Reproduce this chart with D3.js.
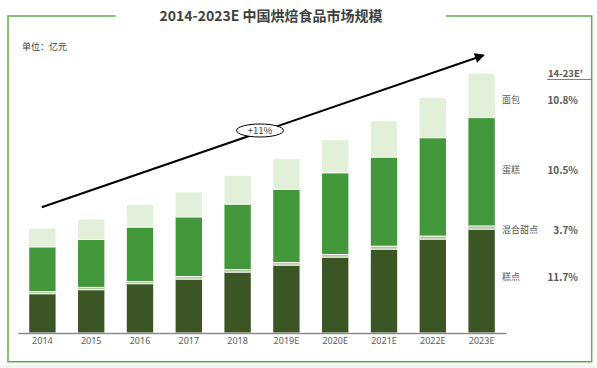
<!DOCTYPE html>
<html><head><meta charset="utf-8">
<script src="https://cdn.jsdelivr.net/npm/d3@7"></script>
<style>
html,body{margin:0;padding:0;background:#fff;}
svg{display:block;font-family:"Noto Sans CJK SC","Noto Sans",sans-serif;}
</style></head>
<body>
<svg id="chart" width="597" height="368"></svg>
<script>
const title = "2014-2023E 中国烘焙食品市场规模";
const unitLabel = "单位：亿元";
const years = ["2014","2015","2016","2017","2018","2019E","2020E","2021E","2022E","2023E"];
const seriesNames = ["糕点","混合甜点","蛋糕","面包"];
const pastry = [387, 427, 487, 533, 603, 673, 753, 833, 933, 1033];
const mixedDessert = [22, 24, 23, 26, 27, 26, 27, 30, 31, 32];
const cake = [446, 480, 543, 596, 653, 733, 816, 890, 983, 1084];
const bread = [184, 197, 224, 247, 284, 303, 327, 360, 397, 440];
const cagrLabels = ["11.7%","3.7%","10.5%","10.8%"];
const cagrHeader = "14-23E'";
const overallGrowth = "+11%";
const colors = ["#3b5524","#b3c6a3","#43983b","#e2efd9"];

const svg = d3.select("#chart");
const seriesVals = [pastry, mixedDessert, cake, bread];
const rows = years.map((y,i)=>{const r={year:y}; seriesNames.forEach((s,k)=>r[s]=seriesVals[k][i]); return r;});
const stack = d3.stack().keys(seriesNames)(rows);

const x = d3.scaleBand().domain(years).range([18,506]).paddingInner(0.46).paddingOuter(0.23);
const y = d3.scaleLinear().domain([0,3000]).range([332.5,32.5]);

// bottom page strip
svg.append("rect").attr("x",0).attr("y",365).attr("width",597).attr("height",3).attr("fill","#f3f5f3");

// frame
svg.append("path")
  .attr("d","M115.7,16 H8 V361.7 H591.7 V16 H446")
  .attr("fill","none").attr("stroke","#5fae4c").attr("stroke-width",1.5);

svg.append("text").attr("x",271).attr("y",21).attr("text-anchor","middle")
  .attr("font-size",14).attr("font-weight","bold").attr("fill","#404040").text(title);
svg.append("text").attr("x",22).attr("y",49.5).attr("font-size",9).attr("fill","#404040").text(unitLabel);

// bars
const g = svg.append("g");
stack.forEach((layer,k)=>{
  g.selectAll(null).data(layer).enter().append("rect")
    .attr("x",d=>x(d.data.year))
    .attr("width",x.bandwidth())
    .attr("y",d=>y(d[1]))
    .attr("height",d=>y(d[0])-y(d[1]))
    .attr("fill",colors[k]);
  if(k>0){
    g.selectAll(null).data(layer).enter().append("line")
      .attr("x1",d=>x(d.data.year)).attr("x2",d=>x(d.data.year)+x.bandwidth())
      .attr("y1",d=>y(d[0])).attr("y2",d=>y(d[0]))
      .attr("stroke","#fff").attr("stroke-width",1);
  }
});

// x axis
const xAxis = d3.axisBottom(x).tickSize(0).tickPadding(5);
const ax = svg.append("g").attr("transform","translate(0,333)").call(xAxis);
ax.select(".domain").attr("stroke","#8c8c8c").attr("stroke-width",1.5);
ax.selectAll("text").attr("font-size",9).attr("fill","#595959").attr("font-family","\"Noto Sans\",sans-serif");

// growth arrow
const defs = svg.append("defs");
defs.append("marker").attr("id","arr").attr("viewBox","0 0 10 10").attr("refX",8).attr("refY",5)
  .attr("markerWidth",5.5).attr("markerHeight",5).attr("orient","auto").attr("markerUnits","strokeWidth")
  .append("path").attr("d","M0,0 L10,5 L0,10 z").attr("fill","#000");
svg.append("line").attr("x1",41.7).attr("y1",207.3).attr("x2",483).attr("y2",55.5)
  .attr("stroke","#000").attr("stroke-width",2).attr("marker-end","url(#arr)");
svg.append("ellipse").attr("cx",260).attr("cy",130.5).attr("rx",23.5).attr("ry",6.5)
  .attr("fill","#fff").attr("stroke","#000").attr("stroke-width",1);
svg.append("text").attr("x",260).attr("y",134).attr("text-anchor","middle")
  .attr("font-size",9.5).attr("fill","#404040").text(overallGrowth);

// legend / CAGR
svg.append("text").attr("x",548).attr("y",76.5).attr("font-size",9.5).attr("font-weight","bold")
  .attr("fill","#595959").text(cagrHeader);
svg.append("line").attr("x1",547).attr("x2",591).attr("y1",79.5).attr("y2",79.5)
  .attr("stroke","#7f7f7f").attr("stroke-width",1);
const legY = [277, 230, 170, 100];
seriesNames.forEach((s,k)=>{
  svg.append("text").attr("x",502).attr("y",legY[k]+3.3).attr("font-size",9).attr("fill","#595959").text(s);
  svg.append("text").attr("x",578).attr("y",legY[k]+3.6).attr("text-anchor","end").attr("font-size",10)
    .attr("font-weight","bold").attr("fill","#595959").text(cagrLabels[k]);
});
</script>
</body></html>
